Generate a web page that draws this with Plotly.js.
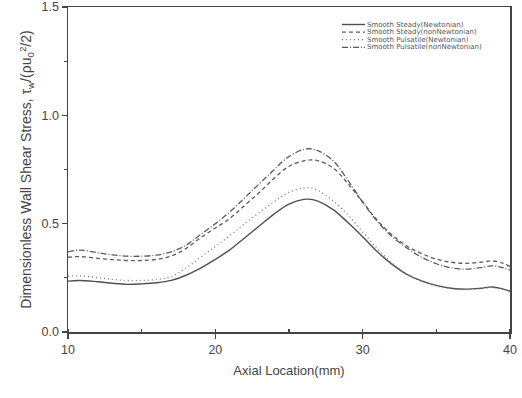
<!DOCTYPE html>
<html>
<head>
<meta charset="utf-8">
<script src="https://cdn.plot.ly/plotly-3.0.1.min.js"></script>
<style>html,body{margin:0;padding:0;background:#fff;}#chart{width:522px;height:398px;}</style>
</head>
<body>
<div id="chart"></div>
<script>
// Axial location (mm)
const axialLocation = [10, 10.8, 12, 13, 14, 15, 16, 17, 18, 19, 20, 21, 22, 23, 24, 25, 26, 26.5, 27, 28, 29, 30, 31, 32, 33, 34, 35, 36, 37, 38, 38.8, 39.5, 40];

// Dimensionless wall shear stress
const steadyNewtonian = [0.235, 0.238, 0.232, 0.225, 0.220, 0.222, 0.227, 0.238, 0.262, 0.295, 0.335, 0.380, 0.435, 0.490, 0.545, 0.590, 0.612, 0.612, 0.603, 0.565, 0.505, 0.440, 0.370, 0.312, 0.266, 0.236, 0.215, 0.202, 0.198, 0.202, 0.208, 0.199, 0.188];
const steadyNonNewtonian = [0.345, 0.348, 0.340, 0.334, 0.330, 0.330, 0.335, 0.350, 0.385, 0.435, 0.480, 0.525, 0.585, 0.645, 0.710, 0.765, 0.790, 0.794, 0.790, 0.757, 0.685, 0.600, 0.515, 0.448, 0.397, 0.362, 0.337, 0.322, 0.317, 0.322, 0.328, 0.318, 0.302];
const pulsatileNewtonian = [0.258, 0.259, 0.251, 0.243, 0.238, 0.238, 0.242, 0.256, 0.295, 0.345, 0.395, 0.445, 0.500, 0.552, 0.602, 0.645, 0.665, 0.665, 0.652, 0.605, 0.540, 0.462, 0.385, 0.318, 0.266, 0.234, 0.212, 0.200, 0.196, 0.199, 0.205, 0.196, 0.186];
const pulsatileNonNewtonian = [0.370, 0.378, 0.366, 0.356, 0.350, 0.350, 0.355, 0.370, 0.400, 0.450, 0.500, 0.555, 0.620, 0.685, 0.750, 0.810, 0.843, 0.845, 0.836, 0.790, 0.700, 0.600, 0.510, 0.440, 0.388, 0.345, 0.315, 0.296, 0.290, 0.297, 0.305, 0.297, 0.285];

const seriesNames = ["Smooth Steady(Newtonian)", "Smooth Steady(nonNewtonian)", "Smooth Pulsatile(Newtonian)", "Smooth Pulsatile(nonNewtonian)"];
const seriesValues = [steadyNewtonian, steadyNonNewtonian, pulsatileNewtonian, pulsatileNonNewtonian];
const dashes = ["solid", "4px,3px", "1px,3px", "6px,2px,1px,2px"];
const colors = ["#505050", "#5a5a5a", "#777777", "#5a5a5a"];
const widths = [1.4, 1.3, 1.3, 1.3];

const FONT = "Liberation Sans, Arial, Helvetica, sans-serif";
const LEGFONT = "DejaVu Sans, Liberation Sans, sans-serif";

const traces = seriesValues.map((vals, i) => ({
  x: axialLocation,
  y: vals,
  type: "scatter",
  mode: "lines",
  name: seriesNames[i],
  showlegend: false,
  line: {shape: "spline", smoothing: 1.0, color: colors[i], width: widths[i], dash: dashes[i]}
}));

// Legend drawn as shapes + annotations (compact, like the original)
const shapes = [];
const annotations = [];
const legX0 = 342, legX1 = 365, legTextX = 366;
const legY0 = 24.5, legDy = 7.6;
const plotL = 68, plotR = 510, plotT = 7, plotB = 332;
function px2paperX(px) { return (px - plotL) / (plotR - plotL); }
function px2paperY(py) { return (plotB - py) / (plotB - plotT); }
seriesNames.forEach((name, i) => {
  const yy = px2paperY(legY0 + i * legDy);
  shapes.push({type: "line", xref: "paper", yref: "paper", x0: px2paperX(legX0), x1: px2paperX(legX1), y0: yy, y1: yy,
    line: {color: colors[i], width: widths[i], dash: dashes[i]}});
  annotations.push({xref: "paper", yref: "paper", x: px2paperX(legTextX), y: yy, xanchor: "left", yanchor: "middle",
    text: name, showarrow: false, borderpad: 0, font: {family: LEGFONT, size: 7, color: "#555"}});
});

const layout = {
  width: 522,
  height: 398,
  margin: {l: 68, r: 12, t: 7, b: 66, pad: 0},
  paper_bgcolor: "#fff",
  plot_bgcolor: "#fff",
  font: {family: FONT, color: "#444"},
  showlegend: false,
  xaxis: {
    range: [10, 40],
    dtick: 10,
    tick0: 10,
    ticks: "outside",
    ticklen: 5,
    tickwidth: 1.2,
    tickcolor: "#444",
    showline: true,
    linecolor: "#444",
    linewidth: 1.5,
    mirror: true,
    showgrid: false,
    zeroline: false,
    tickfont: {family: FONT, size: 12.5, color: "#444"},
    minor: {dtick: 5, ticks: "inside", ticklen: 3, tickcolor: "#444", showgrid: false},
    title: {text: "Axial Location(mm)", font: {family: FONT, size: 13, color: "#444"}, standoff: 10}
  },
  yaxis: {
    range: [0, 1.5],
    dtick: 0.5,
    tick0: 0,
    tickformat: ".1f",
    ticks: "outside",
    ticklen: 5,
    tickwidth: 1.2,
    tickcolor: "#444",
    showline: true,
    linecolor: "#444",
    linewidth: 1.5,
    mirror: true,
    showgrid: false,
    zeroline: false,
    tickfont: {family: FONT, size: 12.5, color: "#444"},
    minor: {dtick: 0.25, ticks: "outside", ticklen: 3, tickcolor: "#444", showgrid: false},
    title: {text: "Dimensionless Wall Shear Stress, τ<sub>w</sub>/(ρu<sub>0</sub><sup>2</sup>/2)", font: {family: FONT, size: 14, color: "#444"}, standoff: 6}
  },
  shapes: shapes,
  annotations: annotations
};

Plotly.newPlot("chart", traces, layout, {staticPlot: true, displayModeBar: false});
</script>
</body>
</html>
